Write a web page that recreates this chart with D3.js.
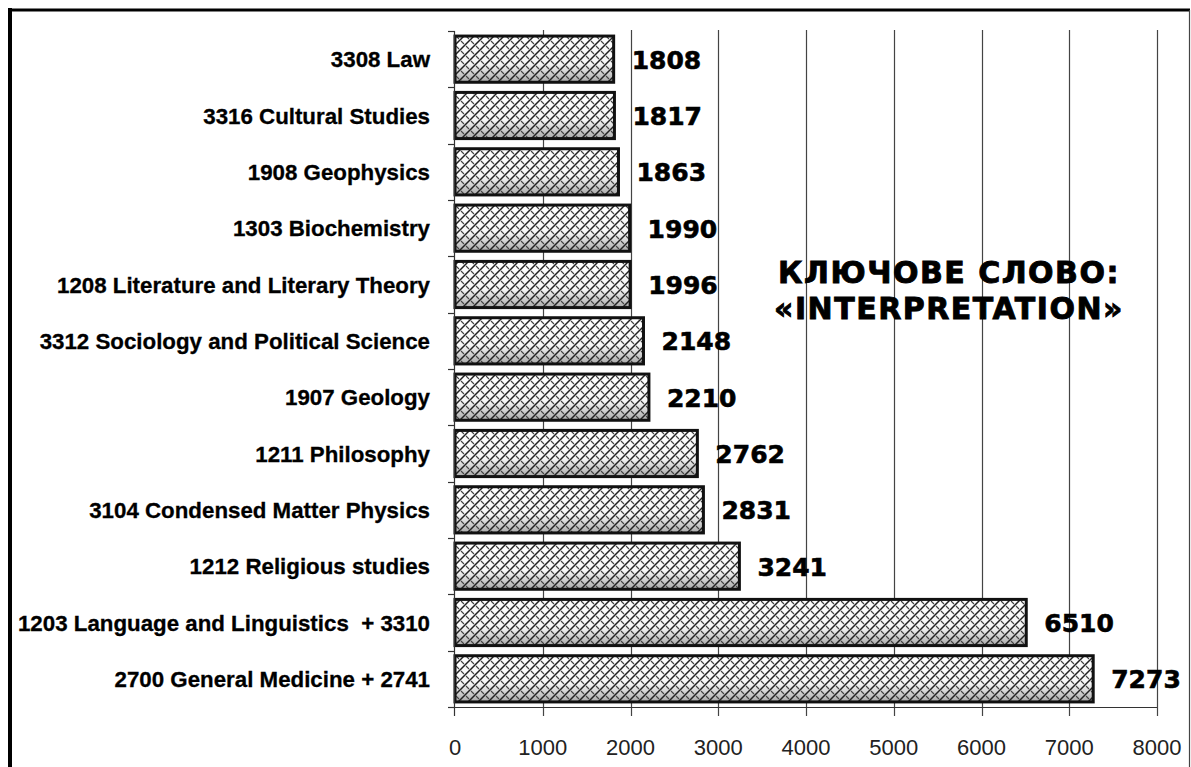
<!DOCTYPE html>
<html><head><meta charset="utf-8">
<script src="https://cdn.jsdelivr.net/npm/d3@7"></script>
<style>html,body{margin:0;padding:0;background:#fff;}svg{display:block;}</style>
</head><body>
<svg id="chart" width="1191" height="767"></svg>
<script>
const categories = [
  "3308 Law",
  "3316 Cultural Studies",
  "1908 Geophysics",
  "1303 Biochemistry",
  "1208 Literature and Literary Theory",
  "3312 Sociology and Political Science",
  "1907 Geology",
  "1211 Philosophy",
  "3104 Condensed Matter Physics",
  "1212 Religious studies",
  "1203 Language and Linguistics  + 3310",
  "2700 General Medicine + 2741"
];
const values = [1808, 1817, 1863, 1990, 1996, 2148, 2210, 2762, 2831, 3241, 6510, 7273];
const xTicks = [0, 1000, 2000, 3000, 4000, 5000, 6000, 7000, 8000];
const titleLines = ["КЛЮЧОВЕ СЛОВО:", "«INTERPRETATION»"];

const svg = d3.select("#chart");
const pLeft = 455, pRight = 1157, pTop = 31, pBottom = 707;

const x = d3.scaleLinear().domain([0, 8000]).range([pLeft, pRight]);
const y = d3.scaleBand().domain(categories).range([pTop, pBottom]).paddingInner(0.18).paddingOuter(0.09);

// defs: gradient + hatch pattern
const defs = svg.append("defs");
const grad = defs.append("linearGradient").attr("id", "barGrad").attr("x1", 0).attr("y1", 0).attr("x2", 0).attr("y2", 1);
grad.append("stop").attr("offset", "0%").attr("stop-color", "#ffffff");
grad.append("stop").attr("offset", "60%").attr("stop-color", "#f6f6f6");
grad.append("stop").attr("offset", "100%").attr("stop-color", "#a8a8a8");

const pat = defs.append("pattern").attr("id", "hatch").attr("patternUnits", "userSpaceOnUse")
  .attr("width", 10).attr("height", 10);
pat.append("path").attr("d", "M-2,12 L12,-2 M-2,2 L2,-2 M8,12 L12,8")
  .attr("stroke", "#222").attr("stroke-width", 1.5).attr("fill", "none");
pat.append("path").attr("d", "M1,1 L4,4 M6,6 L9,9")
  .attr("stroke", "#444").attr("stroke-width", 1.1).attr("fill", "none");

// frame
svg.append("line").attr("x1", 10).attr("x2", 10).attr("y1", 8).attr("y2", 767).attr("stroke", "#000").attr("stroke-width", 4);
svg.append("line").attr("x1", 8).attr("x2", 1190).attr("y1", 10).attr("y2", 10).attr("stroke", "#000").attr("stroke-width", 3);
svg.append("line").attr("x1", 1189.5).attr("x2", 1189.5).attr("y1", 10).attr("y2", 767).attr("stroke", "#444").attr("stroke-width", 1.2);

// gridlines
svg.append("g").selectAll("line").data(xTicks.filter(d => d > 0)).join("line")
  .attr("x1", d => Math.round(x(d)) + 0.5).attr("x2", d => Math.round(x(d)) + 0.5)
  .attr("y1", pTop - 1).attr("y2", pBottom + 9)
  .attr("stroke", "#444").attr("stroke-width", 1.2);

// bars
const bars = svg.append("g");
bars.selectAll("rect.g").data(values).join("rect").attr("class", "g")
  .attr("x", x(0)).attr("y", (d, i) => y(categories[i]))
  .attr("width", d => x(d) - x(0)).attr("height", y.bandwidth())
  .attr("fill", "url(#barGrad)");
bars.selectAll("rect.h").data(values).join("rect").attr("class", "h")
  .attr("x", x(0)).attr("y", (d, i) => y(categories[i]))
  .attr("width", d => x(d) - x(0)).attr("height", y.bandwidth())
  .attr("fill", "url(#hatch)");
bars.selectAll("rect.o").data(values).join("rect").attr("class", "o")
  .attr("x", x(0)).attr("y", (d, i) => y(categories[i]))
  .attr("width", d => x(d) - x(0)).attr("height", y.bandwidth())
  .attr("fill", "none").attr("stroke", "#111").attr("stroke-width", 3);

// axes lines
svg.append("line").attr("x1", pLeft).attr("x2", pRight).attr("y1", pBottom + 0.5).attr("y2", pBottom + 0.5).attr("stroke", "#333").attr("stroke-width", 1.2);
svg.append("line").attr("x1", pLeft - 0.5).attr("x2", pLeft - 0.5).attr("y1", pTop).attr("y2", pBottom + 9).attr("stroke", "#333").attr("stroke-width", 1.2);
// category boundary ticks
const bnd = categories.map(c => y(c) - y.step() * y.paddingInner() / 2);
bnd.push(pBottom);
svg.append("g").selectAll("line").data(bnd).join("line")
  .attr("x1", pLeft - 7).attr("x2", pLeft).attr("y1", d => Math.round(d) + 0.5).attr("y2", d => Math.round(d) + 0.5)
  .attr("stroke", "#333").attr("stroke-width", 1.2);

// x tick labels
svg.append("g").selectAll("text").data(xTicks).join("text")
  .attr("x", d => x(d)).attr("y", 755)
  .attr("text-anchor", "middle")
  .attr("font-family", "Liberation Sans, Arial, sans-serif").attr("font-size", 22)
  .attr("fill", "#222").text(d => d);

// category labels
svg.append("g").selectAll("text").data(categories).join("text")
  .attr("x", 430).attr("y", d => y(d) + y.bandwidth() / 2)
  .attr("dy", "0.36em").attr("text-anchor", "end")
  .attr("font-family", "Liberation Sans, Arial, sans-serif").attr("font-weight", "bold").attr("font-size", 22.3)
  .attr("stroke", "#000").attr("stroke-width", 0.3)
  .style("white-space", "pre").attr("fill", "#000").text(d => d);

// value labels
svg.append("g").selectAll("text").data(values).join("text")
  .attr("x", d => x(d) + 18).attr("y", (d, i) => y(categories[i]) + y.bandwidth() / 2)
  .attr("dy", "0.38em")
  .attr("font-family", "DejaVu Sans, sans-serif").attr("font-weight", "bold").attr("font-size", 25)
  .attr("stroke", "#000").attr("stroke-width", 0.6)
  .attr("fill", "#000").text(d => d);

// title
svg.append("g").selectAll("text").data(titleLines).join("text")
  .attr("x", 949).attr("y", (d, i) => 283 + i * 36)
  .attr("text-anchor", "middle")
  .attr("font-family", "DejaVu Sans, sans-serif").attr("font-weight", "bold").attr("font-size", 30)
  .attr("letter-spacing", 1.5)
  .attr("stroke", "#000").attr("stroke-width", 0.9)
  .attr("fill", "#000").text(d => d);
</script>
</body></html>
